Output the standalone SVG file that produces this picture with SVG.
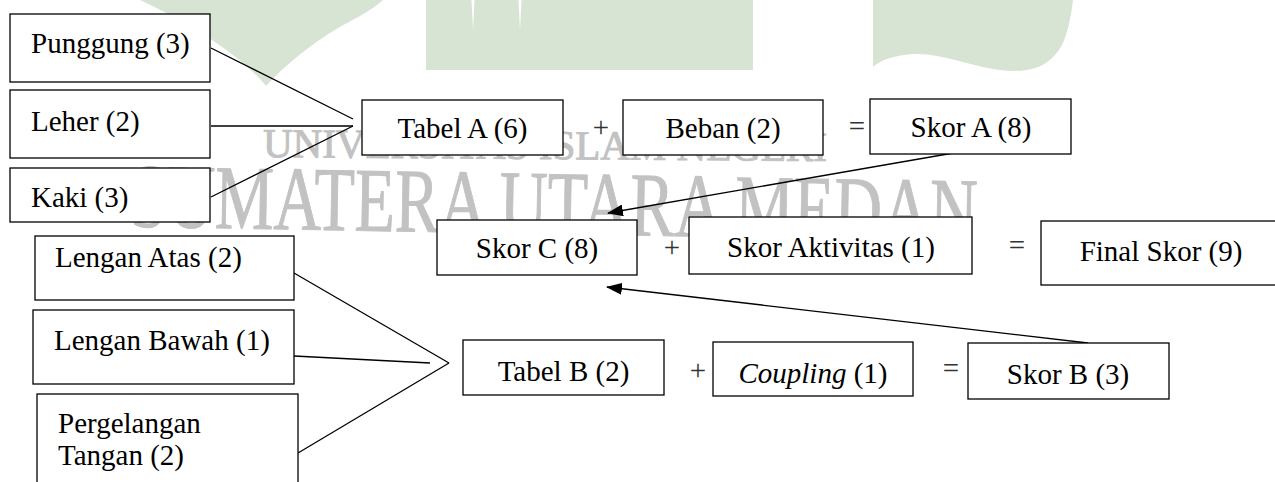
<svg xmlns="http://www.w3.org/2000/svg" width="1275" height="482" viewBox="0 0 1275 482">
<style>
.box{fill:#fff;stroke:#000;stroke-width:1.3}
.t{font-family:"Liberation Serif","Times New Roman",serif;font-size:29px;fill:#000}
.c{text-anchor:middle}
.op{font-family:"Liberation Serif","Times New Roman",serif;font-size:29px;fill:#333;text-anchor:middle}
.wm{fill:#d8e4d3}
.wt{font-family:"Liberation Serif","Times New Roman",serif;fill:#c2c2c2;stroke:#c2c2c2;stroke-width:1}
.ln{stroke:#000;stroke-width:1.3;fill:none}
</style>
<defs>
<marker id="ah" viewBox="0 0 16 12" markerWidth="16" markerHeight="12" refX="15" refY="6" orient="auto" markerUnits="userSpaceOnUse">
<path d="M0,0 L16,6 L0,12 Z" fill="#000"/>
</marker>
</defs>
<rect width="1275" height="482" fill="#fff"/>
<g id="watermark">
<path class="wm" d="M140,0 L383,0 C370,12 352,20 338,28 C310,45 285,65 266,86 C245,60 200,28 140,0 Z"/>
<path class="wm" d="M426,0 L471.5,0 L473,30 L474.5,0 L518.5,0 L520,30 L521.5,0 L753,0 L753,70 L426,70 Z"/>
<path class="wm" d="M873,0 L1073,0 C1070,25 1065,45 1055,55 C1040,72 1020,72 1000,70 C970,66 940,53 915,54 C895,55 880,60 873,67 Z"/>
<text class="wt" x="263" y="157" font-size="41" transform="rotate(0.4 263 157)">UNIVERSITAS ISLAM NEGERI</text>
<text class="wt" x="130" y="234" font-size="91" textLength="847" lengthAdjust="spacingAndGlyphs" transform="rotate(1 553 234)">SUMATERA UTARA MEDAN</text>
</g>
<g id="connectors">
<line class="ln" x1="211" y1="48" x2="353" y2="119"/>
<line class="ln" x1="211" y1="126" x2="353" y2="126"/>
<line class="ln" x1="211" y1="197" x2="353" y2="126"/>
<line class="ln" x1="294" y1="273" x2="449" y2="363"/>
<line class="ln" x1="294" y1="356" x2="430" y2="363"/>
<line class="ln" x1="298" y1="453" x2="449" y2="363"/>
<line class="ln" x1="988" y1="147" x2="608" y2="213" marker-end="url(#ah)"/>
<line class="ln" x1="1088" y1="343" x2="607" y2="287" marker-end="url(#ah)"/>
</g>
<g id="punggung"><rect class="box" x="10" y="14" width="200" height="68"/><text class="t" x="31" y="53">Punggung (3)</text></g>
<g id="leher"><rect class="box" x="10" y="90" width="200" height="68"/><text class="t" x="31" y="131">Leher (2)</text></g>
<g id="kaki"><rect class="box" x="10" y="168" width="200" height="54"/><text class="t" x="31" y="207">Kaki (3)</text></g>
<g id="lengan-atas"><rect class="box" x="35" y="236" width="259" height="64"/><text class="t" x="55" y="267">Lengan Atas (2)</text></g>
<g id="lengan-bawah"><rect class="box" x="33" y="310" width="261" height="74"/><text class="t" x="54" y="350">Lengan Bawah (1)</text></g>
<g id="pergelangan"><rect class="box" x="37" y="394" width="261" height="100"/><text class="t" x="58" y="433">Pergelangan</text><text class="t" x="58" y="465">Tangan (2)</text></g>
<g id="tabel-a"><rect class="box" x="362" y="100" width="201" height="55"/><text class="t c" x="462.5" y="138">Tabel A (6)</text></g>
<g id="op1"><text class="op" x="601" y="137">+</text></g>
<g id="beban"><rect class="box" x="623" y="100" width="200" height="55"/><text class="t c" x="723" y="138">Beban (2)</text></g>
<g id="op2"><text class="op" x="857" y="136">=</text></g>
<g id="skor-a"><rect class="box" x="870" y="99" width="201" height="55"/><text class="t c" x="971" y="137">Skor A (8)</text></g>
<g id="skor-c"><rect class="box" x="437" y="220" width="200" height="55"/><text class="t c" x="537" y="258">Skor C (8)</text></g>
<g id="op3"><text class="op" x="672" y="257">+</text></g>
<g id="skor-aktivitas"><rect class="box" x="689" y="217" width="283" height="57"/><text class="t c" x="831" y="257">Skor Aktivitas (1)</text></g>
<g id="op4"><text class="op" x="1017" y="255">=</text></g>
<g id="final-skor"><rect class="box" x="1041" y="221" width="260" height="64"/><text class="t c" x="1161" y="261">Final Skor (9)</text></g>
<g id="tabel-b"><rect class="box" x="463" y="340" width="201" height="55"/><text class="t c" x="563.5" y="381">Tabel B (2)</text></g>
<g id="op5"><text class="op" x="698" y="380">+</text></g>
<g id="coupling"><rect class="box" x="713" y="342" width="200" height="54"/><text class="t c" x="813" y="383"><tspan font-style="italic">Coupling</tspan> (1)</text></g>
<g id="op6"><text class="op" x="951" y="378">=</text></g>
<g id="skor-b"><rect class="box" x="968" y="343" width="201" height="56"/><text class="t c" x="1068" y="384">Skor B (3)</text></g>
</svg>
